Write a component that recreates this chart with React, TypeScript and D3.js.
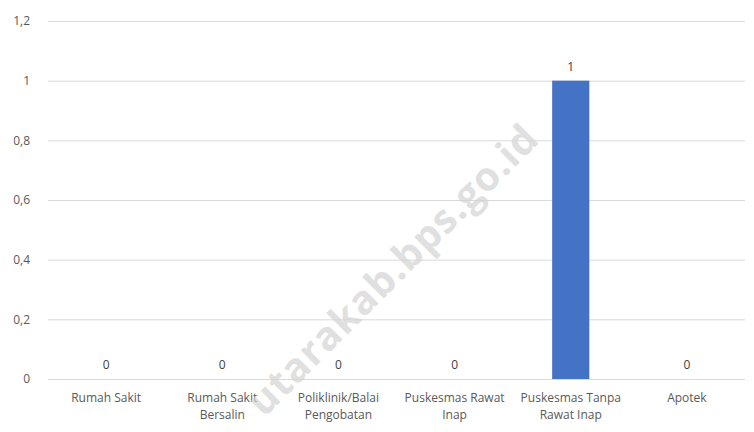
import { useEffect, useRef } from 'react'
import * as d3 from 'd3'

const categories = [
  ['Rumah Sakit'],
  ['Rumah Sakit', 'Bersalin'],
  ['Poliklinik/Balai', 'Pengobatan'],
  ['Puskesmas Rawat', 'Inap'],
  ['Puskesmas Tanpa', 'Rawat Inap'],
  ['Apotek'],
]
const values = [0, 0, 0, 0, 1, 0]
const yTicks = [0, 0.2, 0.4, 0.6, 0.8, 1, 1.2]

const W = 754
const H = 432
const FONT = 'Open Sans, Noto Sans, sans-serif'

export default function App() {
  const ref = useRef<SVGSVGElement>(null)

  useEffect(() => {
    const svg = d3.select(ref.current)
    svg.selectAll('*').remove()

    const margin = { top: 21, right: 9, bottom: 53, left: 48 }
    const width = W - margin.left - margin.right
    const height = H - margin.top - margin.bottom

    svg.append('rect').attr('width', W).attr('height', H).attr('fill', '#fff')
    // chart frame, runs off the right and bottom edge
    svg
      .append('path')
      .attr('d', `M6.5,${H}V4.5H${W}`)
      .attr('fill', 'none')
      .attr('stroke', '#d0d0d0')

    const g = svg.append('g').attr('transform', `translate(${margin.left},${margin.top})`)

    const x = d3
      .scaleBand()
      .domain(categories.map((_, i) => String(i)))
      .range([0, width])
      .paddingInner(0.68)
      .paddingOuter(0.34)
    const y = d3.scaleLinear().domain([0, 1.2]).range([height, 0])

    const fmt = (d: number) => d3.format('.1~f')(d).replace('.', ',')

    g.append('g')
      .call(d3.axisLeft(y).tickValues(yTicks).tickSize(-width).tickFormat((d) => fmt(d as number)))
      .call((a) => a.select('.domain').remove())
      .call((a) => a.selectAll('.tick line').attr('stroke', '#d9d9d9'))
      .call((a) =>
        a
          .selectAll('.tick text')
          .attr('x', -18)
          .attr('fill', '#595959')
          .attr('font-size', 12)
          .attr('font-family', FONT)
      )

    g.selectAll('rect.bar')
      .data(values)
      .join('rect')
      .attr('class', 'bar')
      .attr('x', (_, i) => x(String(i))!)
      .attr('width', x.bandwidth())
      .attr('y', (d) => y(d))
      .attr('height', (d) => height - y(d))
      .attr('fill', '#4472c4')

    g.selectAll('text.lbl')
      .data(values)
      .join('text')
      .attr('class', 'lbl')
      .attr('x', (_, i) => x(String(i))! + x.bandwidth() / 2)
      .attr('y', (d) => y(d) - 10)
      .attr('text-anchor', 'middle')
      .attr('fill', '#404040')
      .attr('font-size', 12)
      .attr('font-family', FONT)
      .text((d) => String(d))

    const cat = g
      .selectAll('text.cat')
      .data(categories)
      .join('text')
      .attr('class', 'cat')
      .attr('text-anchor', 'middle')
      .attr('fill', '#595959')
      .attr('font-size', 12)
      .attr('font-family', FONT)
      .attr('transform', (_, i) => `translate(${x(String(i))! + x.bandwidth() / 2},${height + 23})`)
    cat
      .selectAll('tspan')
      .data((d) => d)
      .join('tspan')
      .attr('x', 0)
      .attr('dy', (_, i) => (i === 0 ? 0 : 17))
      .text((d) => d)

    // watermark
    svg
      .append('text')
      .attr('transform', 'translate(395,272) rotate(-45)')
      .attr('text-anchor', 'middle')
      .attr('dominant-baseline', 'middle')
      .attr('font-family', 'Open Sans, sans-serif')
      .attr('font-weight', 'bold')
      .attr('font-size', 40)
      .attr('letter-spacing', 1)
      .attr('fill', '#d4d4d4')
      .attr('opacity', 0.7)
      .text('utarakab.bps.go.id')
  }, [])

  return (
    <div style={{ margin: -8 }}>
      <svg ref={ref} width={W} height={H} style={{ display: 'block' }} />
    </div>
  )
}
